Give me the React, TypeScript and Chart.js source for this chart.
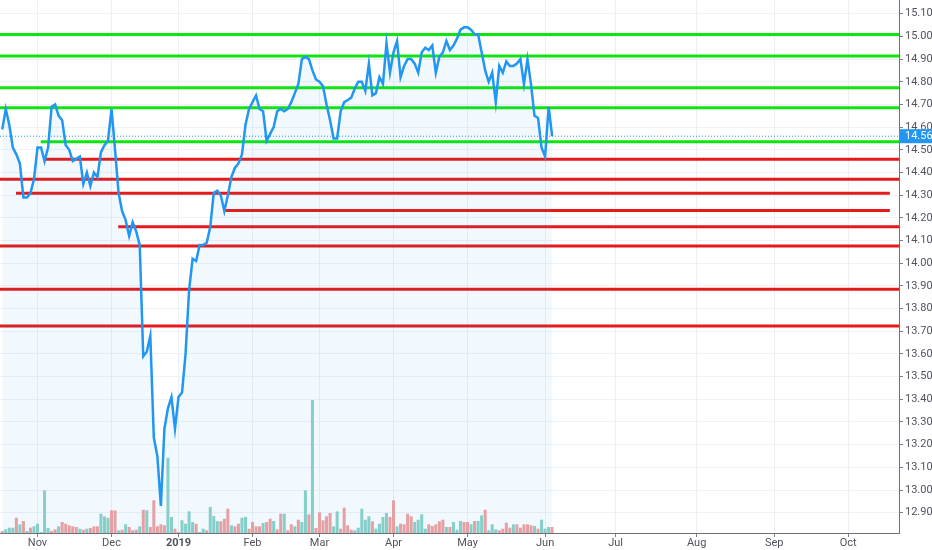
import { useEffect, useRef } from "react";
import { Chart, registerables } from "chart.js";

Chart.register(...registerables);

// trading-day index 0 = first bar on the chart (mid Oct 2018)
const closes = [
  14.59, 14.68, 14.61, 14.51, 14.48, 14.44, 14.29, 14.29, 14.31, 14.37,
  14.51, 14.51, 14.45, 14.51, 14.69, 14.70, 14.65, 14.63, 14.52, 14.50,
  14.45, 14.46, 14.47, 14.35, 14.40, 14.34, 14.40, 14.38, 14.49, 14.52,
  14.54, 14.68, 14.50, 14.31, 14.23, 14.19, 14.12, 14.18, 14.14, 14.08,
  13.59, 13.61, 13.68, 13.23, 13.15, 12.93, 13.27, 13.36, 13.41, 13.27,
  13.41, 13.43, 13.60, 13.88, 14.02, 14.01, 14.08, 14.08, 14.09, 14.16,
  14.31, 14.32, 14.30, 14.23, 14.30, 14.38, 14.42, 14.44, 14.48, 14.61,
  14.68, 14.71, 14.74, 14.68, 14.67, 14.54, 14.57, 14.60, 14.67, 14.68,
  14.67, 14.68, 14.71, 14.75, 14.79, 14.90, 14.91, 14.90, 14.85, 14.81,
  14.80, 14.78, 14.70, 14.63, 14.55, 14.55, 14.67, 14.71, 14.72, 14.73,
  14.77, 14.80, 14.80, 14.76, 14.88, 14.74, 14.75, 14.82, 14.79, 14.97,
  14.84, 14.93, 14.98, 14.82, 14.87, 14.90, 14.90, 14.88, 14.84, 14.93,
  14.95, 14.94, 14.96, 14.84, 14.91, 14.93, 14.98, 14.94, 14.96, 14.99,
  15.03, 15.04, 15.04, 15.03, 15.01, 15.01, 14.93, 14.85, 14.80, 14.84,
  14.71, 14.87, 14.84, 14.89, 14.87, 14.87, 14.88, 14.90, 14.79, 14.90,
  14.79, 14.65, 14.64, 14.51, 14.47, 14.69, 14.56,
];

// volume in thousands of shares
const volumes = [
  20, 37, 53, 53, 153, 87, 120, 20, 53, 67,
  93, 10, 427, 50, 20, 37, 67, 110, 93, 77,
  67, 60, 43, 33, 43, 50, 67, 67, 193, 167,
  150, 227, 227, 27, 33, 87, 60, 27, 33, 67,
  233, 227, 60, 327, 67, 87, 77, 753, 160, 43,
  10, 127, 93, 217, 110, 93, 10, 43, 27, 260,
  170, 117, 117, 143, 243, 77, 67, 93, 153, 160,
  43, 110, 67, 67, 100, 110, 143, 120, 37, 193,
  193, 27, 87, 67, 133, 110, 427, 187, 1330, 50,
  207, 127, 167, 200, 67, 217, 43, 253, 77, 33,
  27, 53, 243, 133, 167, 117, 43, 93, 160, 200,
  160, 327, 67, 93, 87, 193, 167, 110, 133, 187,
  43, 87, 70, 87, 117, 133, 60, 60, 110, 33,
  120, 110, 110, 87, 120, 120, 177, 233, 27, 87,
  37, 27, 43, 103, 53, 87, 87, 53, 87, 87,
  77, 70, 43, 133, 43, 60, 60,
];

// 1 = up day (green), 0 = down day (red)
const volumeUp = [
  0, 1, 1, 1, 0, 1, 0, 1, 0, 1,
  1, 1, 1, 1, 0, 0, 1, 0, 0, 0,
  0, 0, 1, 0, 1, 0, 0, 0, 1, 1,
  1, 0, 0, 1, 0, 1, 0, 0, 0, 1,
  0, 1, 0, 0, 0, 0, 0, 1, 1, 0,
  0, 1, 1, 1, 1, 0, 1, 1, 0, 1,
  1, 1, 0, 0, 0, 1, 0, 0, 1, 1,
  0, 0, 0, 0, 1, 0, 0, 1, 0, 0,
  1, 0, 0, 1, 0, 1, 1, 0, 1, 0,
  0, 0, 0, 0, 1, 1, 0, 0, 0, 0,
  1, 1, 1, 1, 1, 0, 1, 1, 1, 1,
  0, 0, 1, 0, 0, 0, 0, 1, 1, 1,
  1, 0, 0, 0, 0, 0, 1, 0, 1, 1,
  1, 0, 0, 1, 0, 1, 1, 0, 1, 1,
  1, 0, 0, 0, 0, 1, 0, 0, 0, 0,
  0, 1, 0, 1, 1, 1, 0,
];

// hand drawn support / resistance lines
const levelPrices = [15.009, 14.914, 14.774, 14.686, 14.536, 14.458, 14.37, 14.308, 14.232, 14.161, 14.076, 13.885, 13.723];
const levelFrom = [-0.64, -0.64, -0.64, -0.64, 10.9, 12.1, -0.64, 3.9, 63.3, 32.9, -0.64, -0.64, -0.64];
const levelTo = [254.4, 254.4, 254.4, 254.4, 254.4, 254.4, 254.4, 251.8, 251.8, 254.4, 254.4, 254.4, 254.4];
const levelKind = ["res", "res", "res", "res", "res", "sup", "sup", "sup", "sup", "sup", "sup", "sup", "sup"];

const monthTicks = [10, 31, 50, 71, 90, 111, 132, 154, 174, 197, 219, 240];
const monthLabels = ["Nov", "Dec", "2019", "Feb", "Mar", "Apr", "May", "Jun", "Jul", "Aug", "Sep", "Oct"];

const priceTicks = [
  12.9, 13.0, 13.1, 13.2, 13.3, 13.4, 13.5, 13.6, 13.7, 13.8, 13.9,
  14.0, 14.1, 14.2, 14.3, 14.4, 14.5, 14.6, 14.7, 14.8, 14.9, 15.0, 15.1,
];

const lastPrice = closes[closes.length - 1];
const X_MIN = -0.64;
const X_MAX = 254.4;

const BLUE = "#2196f3";
const TEXT = "#50535e";
const FONT = "Roboto, 'Open Sans', sans-serif";

const priceLabel = {
  id: "priceLabel",
  afterDraw(chart: any) {
    const { ctx, chartArea, scales } = chart;
    const y = scales.y.getPixelForValue(lastPrice);
    ctx.save();
    ctx.fillStyle = BLUE;
    ctx.fillRect(chartArea.right, y - 7, chart.width - chartArea.right, 14);
    ctx.fillStyle = "#ffffff";
    ctx.font = `11px ${FONT}`;
    ctx.textBaseline = "middle";
    ctx.textAlign = "left";
    ctx.fillText(lastPrice.toFixed(2), chartArea.right + 6, y + 0.5);
    ctx.restore();
  },
};

export default function App() {
  const canvasRef = useRef<HTMLCanvasElement>(null);
  const chartRef = useRef<Chart | null>(null);

  useEffect(() => {
    if (!canvasRef.current) return;
    chartRef.current?.destroy();

    const levelSets = levelPrices.map((p, k) => ({
      type: "line" as const,
      data: [
        { x: levelFrom[k], y: p },
        { x: levelTo[k], y: p },
      ],
      borderColor: levelKind[k] === "res" ? "#0fe60f" : "#e51919",
      borderWidth: 3,
      pointRadius: 0,
      fill: false,
      order: 1,
      yAxisID: "y",
    }));

    chartRef.current = new Chart(canvasRef.current, {
      type: "line",
      data: {
        datasets: [
          {
            type: "line",
            data: closes.map((c, i) => ({ x: i, y: c })),
            borderColor: BLUE,
            borderWidth: 2.5,
            backgroundColor: "rgba(33,150,243,0.06)",
            fill: "start",
            pointRadius: 0,
            tension: 0,
            order: 0,
            yAxisID: "y",
          },
          ...levelSets,
          {
            type: "line",
            data: [
              { x: X_MIN, y: lastPrice },
              { x: X_MAX, y: lastPrice },
            ],
            borderColor: BLUE,
            borderWidth: 1,
            borderDash: [1, 2],
            pointRadius: 0,
            fill: false,
            order: 2,
            yAxisID: "y",
          },
          {
            type: "bar",
            data: volumes.map((v, i) => ({ x: i, y: v })) as any,
            backgroundColor: volumeUp.map((u) => (u ? "#8cd2c7" : "#f2a19f")),
            barPercentage: 0.86,
            categoryPercentage: 1,
            grouped: false,
            order: 3,
            yAxisID: "vol",
          } as any,
        ],
      },
      options: {
        responsive: false,
        animation: false,
        layout: { padding: 0 },
        plugins: { legend: { display: false }, tooltip: { enabled: false } },
        scales: {
          x: {
            type: "linear",
            offset: false,
            min: X_MIN,
            max: X_MAX,
            afterBuildTicks: (scale: any) => {
              scale.ticks = monthTicks.map((v) => ({ value: v }));
            },
            afterFit: (scale: any) => {
              scale.height = 17;
              scale.paddingLeft = 0;
              scale.paddingRight = 0;
            },
            ticks: {
              autoSkip: false,
              maxRotation: 0,
              padding: 0,
              color: TEXT,
              font: (ctx: any) => ({
                family: FONT,
                size: 11,
                weight: ctx.tick && ctx.tick.value === 50 ? "bold" : "normal",
              }),
              callback: (value: any) => monthLabels[monthTicks.indexOf(Number(value))] ?? "",
            },
            grid: { offset: false, color: "#eceff5", tickLength: 4, tickColor: "#7b7e88" },
            border: { color: "#6e717c", width: 1 },
          },
          y: {
            type: "linear",
            position: "right",
            min: 12.8105,
            max: 15.1606,
            afterBuildTicks: (scale: any) => {
              scale.ticks = priceTicks.map((v) => ({ value: v }));
            },
            afterFit: (scale: any) => {
              scale.width = 33;
              scale.paddingTop = 0;
              scale.paddingBottom = 0;
            },
            ticks: {
              padding: 2,
              color: TEXT,
              font: { family: FONT, size: 11 },
              callback: (value: any) => Number(value).toFixed(2),
            },
            grid: { color: "#f0f2f7", tickLength: 4, tickColor: "#7b7e88" },
            border: { color: "#6e717c", width: 1 },
          },
          vol: {
            type: "linear",
            display: false,
            min: 0,
            max: 5330,
          },
        },
      },
      plugins: [priceLabel],
    });

    return () => {
      chartRef.current?.destroy();
    };
  }, []);

  return (
    <div style={{ position: "fixed", left: 0, top: 0, width: 932, height: 550, background: "#ffffff" }}>
      <canvas ref={canvasRef} width={932} height={550} />
    </div>
  );
}
